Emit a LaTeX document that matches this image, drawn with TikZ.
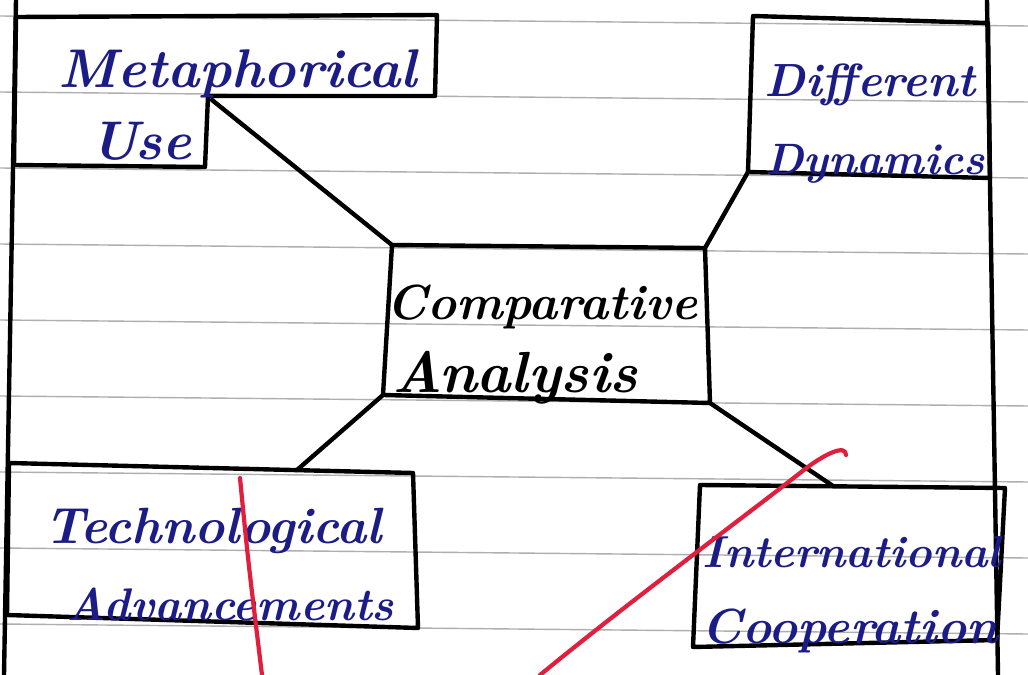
\documentclass[tikz,border=0pt]{standalone}
\usepackage{tkz-euclide}
\definecolor{ink}{RGB}{28,28,135}
\definecolor{redpen}{RGB}{225,30,60}
\definecolor{ruling}{RGB}{175,175,175}
\edef\gap{76}

\begin{document}
\begin{tikzpicture}[x=0.02cm,y=-0.02cm,line cap=round,line join=round,
  box/.style={line width=2.5pt,color=black},
  word/.style={font=\fontsize{#1}{#1}\selectfont\bfseries\itshape,anchor=base},
  word/.default=30,
  pen/.style={line width=2.4pt,color=redpen}]
  \useasboundingbox (0,0) rectangle (1028,675);
  \fill[white] (0,0) rectangle (1028,675);

  % the ruled lines of the page
  \foreach \i in {0,...,8}
    \draw[ruling,line width=0.8pt] (0,16+\gap*\i) -- (1028,26+\gap*\i);

  % the two margins
  \tkzDefPoint(16,0){L1} \tkzDefPoint(4,675){L2}
  \tkzDefPoint(987,0){R1} \tkzDefPoint(998,675){R2}
  \tkzDrawSegments[box](L1,L2 R1,R2)

  % draw the boxes
  \tkzDefPoint(16,17){M1} \tkzDefPoint(437,15){M2}
  \tkzDefPoint(435,96){M3} \tkzDefPoint(208,96){M4}
  \tkzDefPoint(205,167){M5} \tkzDefPoint(14,165){M6}
  \tkzDrawPolygon[box](M1,M2,M3,M4,M5,M6)

  \tkzDefPoint(753,16){D1} \tkzDefPoint(988,23){D2}
  \tkzDefPoint(990,178){D3} \tkzDefPoint(748,172){D4}
  \tkzDrawPolygon[box](D1,D2,D3,D4)

  \tkzDefPoint(392,245){C1} \tkzDefPoint(705,248){C2}
  \tkzDefPoint(710,403){C3} \tkzDefPoint(383,395){C4}
  \tkzDrawPolygon[box](C1,C2,C3,C4)

  \tkzDefPoint(9,463){T1} \tkzDefPoint(413,473){T2}
  \tkzDefPoint(418,628){T3} \tkzDefPoint(7,615){T4}
  \tkzDrawPolygon[box](T1,T2,T3,T4)

  \tkzDefPoint(700,485){I1} \tkzDefPoint(1005,488){I2}
  \tkzDefPoint(997,640){I3} \tkzDefPoint(693,647){I4}
  \tkzDrawPolygon[box](I1,I2,I3,I4)

  % join the boxes to the middle one
  \tkzDefPoint(212,100){MA}
  \tkzDefPoint(297,470){TA}
  \tkzDefPoint(833,486){IA}
  \tkzDrawSegments[box](MA,C1 D4,C2 C4,TA C3,IA)

  % the words
  \node[word=31,ink] (met) at (238,88) {Metaphorical};
  \node[word=31,ink] (use) at (141,160) {Use};
  \node[word=26.5,ink] (dif) at (870,97) {Different};
  \node[word=25,ink] (dyn) at (875,175) {Dynamics};
  \node[word=28] (com) at (542,320) {Comparative};
  \node[word=33] (ana) at (515,393) {Analysis};
  \node[word=29,ink] (tec) at (213,543) {Technological};
  \node[word=26,ink] (adv) at (230,620) {Advancements};
  \node[word=25.5,ink] (int) at (852,567) {International};
  \node[word=28,ink] (coo) at (850,643) {Cooperation};

  % red pen marks
  \tkzDefPoint(240,478){P1} \tkzDefPoint(262,675){P2}
  \draw[pen] (P1) .. controls (248,560) .. (P2);
  \tkzDefPoint(540,675){P3} \tkzDefPoint(800,473){P4}
  \tkzDefPoint(846,455){P5}
  \draw[pen] (P3) .. controls (625,605) and (740,520) .. (P4)
    .. controls (825,453) and (846,444) .. (P5);
\end{tikzpicture}
\end{document}
